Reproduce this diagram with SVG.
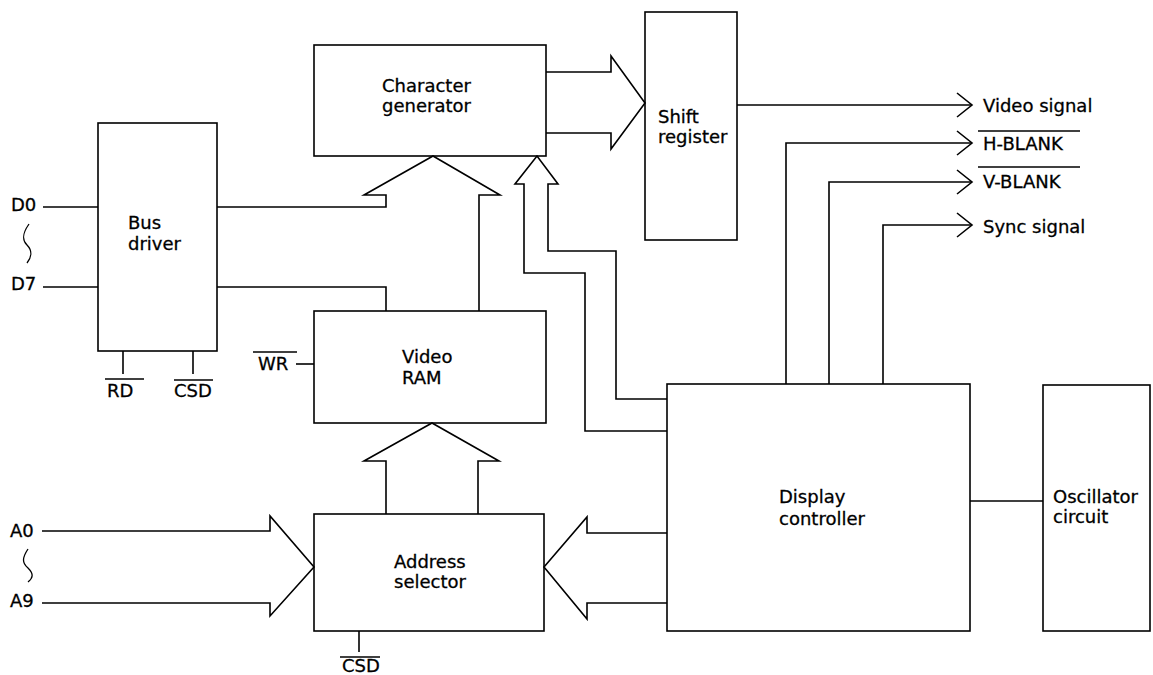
<svg xmlns="http://www.w3.org/2000/svg" width="1153" height="675" viewBox="0 0 1153 675">
<style>
.box{fill:none;stroke:#000;stroke-width:1.6}
.ln{fill:none;stroke:#000;stroke-width:1.6;stroke-linejoin:miter}
.thin{fill:none;stroke:#000;stroke-width:1.3}
text{font-family:"DejaVu Sans",Verdana,sans-serif;font-size:18px;fill:#000;stroke:#000;stroke-width:0.3}
</style>
<rect width="1153" height="675" fill="#fff"/>
<g id="bus-driver">
<rect class="box" x="98" y="123" width="119" height="228"/>
<text x="128" y="229">Bus</text>
<text x="128" y="250">driver</text>
</g>
<g id="character-generator">
<rect class="box" x="314" y="45" width="232" height="111"/>
<text x="382" y="92">Character</text>
<text x="382" y="112">generator</text>
</g>
<g id="shift-register">
<rect class="box" x="645" y="12" width="92" height="228"/>
<text x="658" y="123">Shift</text>
<text x="658" y="143">register</text>
</g>
<g id="video-ram">
<rect class="box" x="314" y="311" width="232" height="112"/>
<text x="402" y="363">Video</text>
<text x="402" y="384">RAM</text>
</g>
<g id="address-selector">
<rect class="box" x="314" y="514" width="230" height="117"/>
<text x="394" y="568">Address</text>
<text x="394" y="588">selector</text>
</g>
<g id="display-controller">
<rect class="box" x="667" y="384" width="303" height="247"/>
<text x="779" y="503">Display</text>
<text x="779" y="525">controller</text>
</g>
<g id="oscillator-circuit">
<rect class="box" x="1043" y="385" width="107" height="246"/>
<text x="1053" y="503">Oscillator</text>
<text x="1053" y="523">circuit</text>
</g>
<g id="labels">
<text x="11" y="211">D0</text>
<text x="11" y="290">D7</text>
<text x="10" y="537">A0</text>
<text x="10" y="607">A9</text>
<text x="107" y="397">RD</text>
<line class="thin" x1="105" y1="379" x2="144" y2="379"/>
<text x="174" y="397">CSD</text>
<line class="thin" x1="174" y1="380" x2="213" y2="380"/>
<text x="258" y="370">WR</text>
<line class="thin" x1="253" y1="352" x2="297" y2="352"/>
<text x="342" y="672">CSD</text>
<line class="thin" x1="340" y1="657" x2="380" y2="657"/>
<text x="983" y="112">Video signal</text>
<text x="983" y="150">H-BLANK</text>
<line class="thin" x1="978" y1="131" x2="1080" y2="131"/>
<text x="983" y="188">V-BLANK</text>
<line class="thin" x1="978" y1="167" x2="1080" y2="167"/>
<text x="983" y="233">Sync signal</text>
</g>
<g id="connectors">
<line class="ln" x1="43" y1="207" x2="98" y2="207"/>
<line class="ln" x1="43" y1="287" x2="98" y2="287"/>
<path class="thin" d="M29,224 C22,234 22,240 27,245 C33,251 31,258 27,263"/>
<path class="thin" d="M28,549 C22,558 22,563 28,568 C34,574 33,578 28,582"/>
<line class="ln" x1="123" y1="351" x2="123" y2="374"/>
<line class="ln" x1="193" y1="351" x2="193" y2="374"/>
<line class="ln" x1="296" y1="364" x2="314" y2="364"/>
<line class="ln" x1="359" y1="631" x2="359" y2="652"/>
<polyline class="ln" points="217,207 386,207 386,195 364,195 433,156 500,195 479,195 479,311"/>
<polyline class="ln" points="217,287 386,287 386,311"/>
<polyline class="ln" points="546,72 611,72 611,56 645,103 611,149 611,133 546,133"/>
<polyline class="ln" points="667,431 585,431 585,273 524,273 524,184 515,184 537,156 558,184 548,184 548,251 616,251 616,399 667,399"/>
<polyline class="ln" points="386,514 386,461 364,461 432,423 499,461 478,461 478,514"/>
<polyline class="ln" points="42,531 270,531 270,516 314,567 270,616 270,603 42,603"/>
<polyline class="ln" points="667,533 587,533 587,517 544,567 587,619 587,603 667,603"/>
<line class="ln" x1="737" y1="105" x2="972" y2="105"/>
<polyline class="ln" points="957,93 972,105 957,117"/>
<polyline class="ln" points="786,384 786,143 972,143"/>
<polyline class="ln" points="957,131 972,143 957,155"/>
<polyline class="ln" points="829,384 829,182 972,182"/>
<polyline class="ln" points="957,170 972,182 957,194"/>
<polyline class="ln" points="883,384 883,225 972,225"/>
<polyline class="ln" points="957,213 972,225 957,237"/>
<line class="ln" x1="970" y1="501" x2="1043" y2="501"/>
</g>
</svg>
